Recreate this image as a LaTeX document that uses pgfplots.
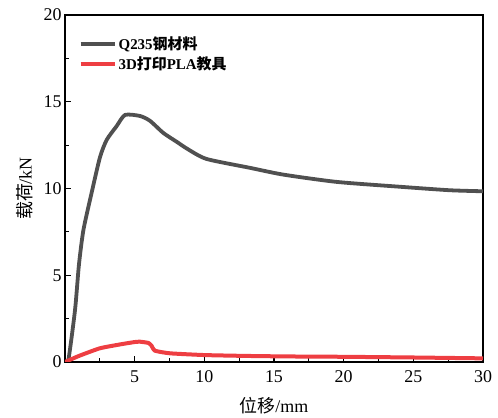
\documentclass[border=0pt]{standalone}
\usepackage{fontspec}
\setmainfont{Liberation Serif}
\newfontfamily\cjk{Noto Sans CJK SC}
\usepackage{pgfplots}
\pgfplotsset{compat=1.18}
\usetikzlibrary{calc}
\definecolor{steelgray}{RGB}{80,80,80}
\definecolor{plared}{RGB}{238,62,66}

\begin{document}
\begin{tikzpicture}
\begin{axis}[
  name=ax,
  scale only axis,
  width=418bp, height=347bp,
  xmin=0, xmax=30, ymin=0, ymax=20,
  xtick={5,10,15,20,25,30},
  ytick={0,5,10,15,20},
  minor xtick={2.5,7.5,12.5,17.5,22.5,27.5},
  minor ytick={2.5,7.5,12.5,17.5},
  xtick pos=bottom, ytick pos=left,
  tick align=inside,
  major tick length=6bp, minor tick length=4bp,
  every tick/.style={black, line width=1.2bp},
  axis line style={line width=1.5bp},
  tick label style={font=\fontsize{18}{20}\selectfont},
  xticklabel style={yshift=-5bp},
  /pgf/number format/assume math mode=true,
  xlabel={{\cjk 位移}/mm},
  ylabel={{\cjk 载荷}/kN},
  label style={font=\fontsize{18}{20}\selectfont},
  xlabel style={at={(axis description cs:0.5,-0.126)}, anchor=center},
  ylabel style={at={(axis description cs:-0.096,0.5)}, anchor=center},
  legend style={draw=none, fill=none, at={(0.025,0.95)}, anchor=north west,
    font=\fontsize{15}{17}\selectfont\bfseries, row sep=2bp},
  legend cell align=left,
  legend image code/.code={\draw[#1] (0bp,0bp) -- (34bp,0bp);},
]
\addplot[steelgray, line width=3.8bp, smooth, tension=0.4] coordinates {
  (0,0)(0.24,0.1)(0.72,3.0)(1.0,5.6)(1.32,7.6)(1.91,9.75)(2.51,11.8)(2.99,12.8)
  (3.71,13.6)(4.31,14.24)(5.38,14.18)(6.1,13.9)(7.06,13.2)(8.0,12.7)(8.85,12.25)
  (10.17,11.7)(13.28,11.19)(15.67,10.8)(19.5,10.38)(24.05,10.1)(27.6,9.9)(30,9.84)
};
\addlegendentry{Q235{\cjk 钢材料}}
\addplot[plared, line width=4bp, smooth, tension=0.3] coordinates {
  (0,0)(1.0,0.35)(2.5,0.79)(4.0,1.02)(5.0,1.15)(5.38,1.17)(5.98,1.1)(6.2,0.95)
  (6.46,0.65)(7.54,0.5)(10,0.4)(13,0.35)(16,0.32)(20,0.3)(25,0.26)(30,0.21)
};
\addlegendentry{3D{\cjk 打印}PLA{\cjk 教具}}
\end{axis}
\path[use as bounding box] ($(ax.south west)+(-65bp,-56bp)$) rectangle ($(ax.north east)+(15bp,15bp)$);
\end{tikzpicture}
\end{document}
